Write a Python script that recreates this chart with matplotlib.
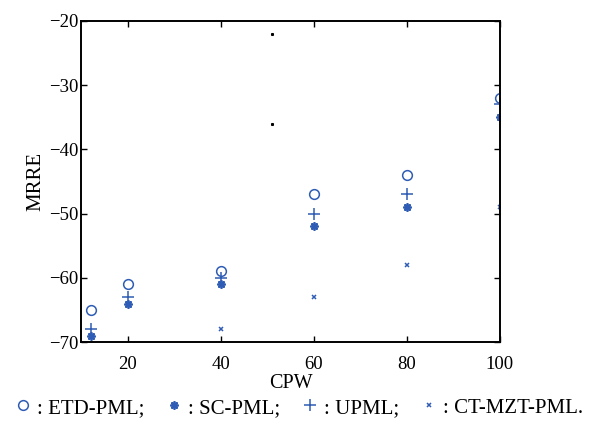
import matplotlib
matplotlib.use("Agg")
import matplotlib.pyplot as plt

# values
cpw = [12, 20, 40, 60, 80, 100]
etd_pml = [-65, -61, -59, -47, -44, -32]
sc_pml = [-69, -64, -61, -52, -49, -35]
upml = [-68, -63, -60, -50, -47, -33]
cpw_ct = [40, 60, 80, 100]
ct_mzt_pml = [-68, -63, -58, -49]
# two stray black specks in the original figure
stray_x = [51, 51]
stray_y = [-22, -36]

labels = [": ETD-PML;", ": SC-PML;", ": UPML;", ": CT-MZT-PML."]
xticks = [20, 40, 60, 80, 100]
yticks = [-70, -60, -50, -40, -30, -20]

BLUE = "#2f5cb4"
plt.rcParams["font.family"] = ["Liberation Serif", "DejaVu Serif"]
plt.rcParams["axes.unicode_minus"] = True

fig = plt.figure(figsize=(5.93, 4.26), dpi=100)
ax = fig.add_axes([0.137, 0.197, 0.706, 0.754])

h1, = ax.plot(cpw, etd_pml, "o", ls="none", mfc="none", mec=BLUE, mew=1.1, ms=7)
h2, = ax.plot(cpw, sc_pml, marker=(8, 2, 0), ls="none", color=BLUE, mew=1.3, ms=6)
h3, = ax.plot(cpw, upml, "+", ls="none", color=BLUE, mew=1.1, ms=8)
h4, = ax.plot(cpw_ct, ct_mzt_pml, "x", ls="none", color=BLUE, mew=1.1, ms=3.5)
ax.plot(stray_x, stray_y, "s", ls="none", color="black", ms=1.2)

ax.set_xlim(10, 100)
ax.set_ylim(-70, -20)
ax.set_xticks(xticks)
ax.set_yticks(yticks)
ax.tick_params(direction="in", top=True, right=True, length=4.5, width=1.0,
               labelsize=13.5, pad=2)
ax.tick_params(axis="x", pad=10)
for s in ax.spines.values():
    s.set_linewidth(1.4)
ax.set_xlabel("CPW", fontsize=14.5, labelpad=1)
ax.set_ylabel("MRRE", fontsize=15, labelpad=3)

fig.legend([h1, h2, h3, h4], labels, loc="lower center", bbox_to_anchor=(0.505, -0.01),
           ncol=4, frameon=False, fontsize=15, handlelength=0.7,
           handletextpad=0.3, columnspacing=1.1, borderaxespad=0.2)

fig.savefig("out.png", dpi=100)
